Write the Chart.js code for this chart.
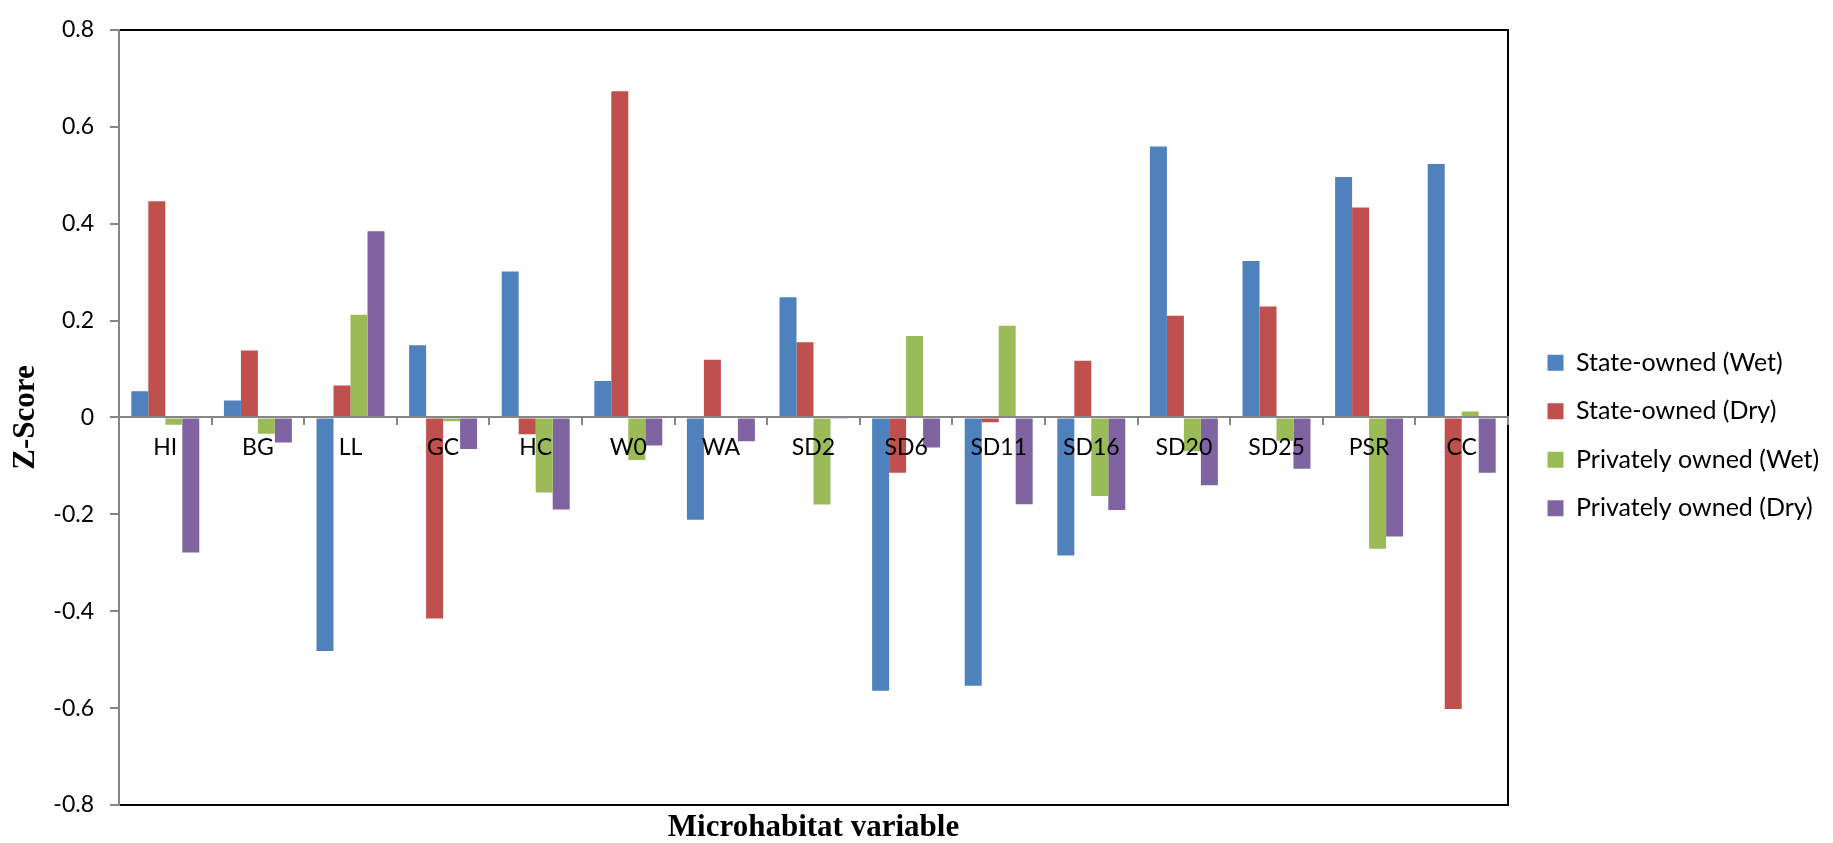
<!DOCTYPE html>
<html>
<head>
<meta charset="utf-8">
<script src="https://cdn.jsdelivr.net/npm/chart.js@4/dist/chart.umd.min.js"></script>
<style>
  body { margin: 0; background: #fff; }
  #wrap { width: 1833px; height: 843px; }
</style>
</head>
<body>
<div id="wrap"><canvas id="zChart"></canvas></div>
<script>
// values
const categories = ['HI', 'BG', 'LL', 'GC', 'HC', 'W0', 'WA', 'SD2', 'SD6', 'SD11', 'SD16', 'SD20', 'SD25', 'PSR', 'CC'];
const stateWet = [0.054, 0.035, -0.482, 0.149, 0.301, 0.075, -0.211, 0.248, -0.564, -0.554, -0.285, 0.559, 0.323, 0.496, 0.523];
const stateDry = [0.446, 0.138, 0.066, -0.415, -0.035, 0.673, 0.119, 0.155, -0.114, -0.010, 0.117, 0.210, 0.229, 0.433, -0.602];
const privWet = [-0.015, -0.034, 0.212, -0.008, -0.155, -0.088, 0, -0.180, 0.168, 0.189, -0.162, -0.070, -0.048, -0.271, 0.012];
const privDry = [-0.279, -0.052, 0.384, -0.065, -0.190, -0.058, -0.049, -0.003, -0.062, -0.179, -0.191, -0.140, -0.106, -0.246, -0.114];
const yTicks = [-0.8, 0.8, 0.2]; // min, max, step

const axisGray = '#868686';
const legendWidth = 309;

Chart.defaults.font.family = 'Lato';
Chart.defaults.color = '#000';

// keep the legend at a fixed width so the plot ends where the original does
const legendFit = {
    id: 'legendFit',
    afterInit(chart) {
        const lg = chart.legend;
        const fit = lg.fit;
        lg.fit = function () {
            fit.call(this);
            this.width = legendWidth;
        };
    }
};

const ctx = document.getElementById('zChart').getContext('2d');

new Chart(ctx, {
    type: 'bar',
    data: {
        labels: categories,
        datasets: [
            { label: 'State-owned (Wet)', data: stateWet, backgroundColor: '#4F81BD' },
            { label: 'State-owned (Dry)', data: stateDry, backgroundColor: '#C0504D' },
            { label: 'Privately owned (Wet)', data: privWet, backgroundColor: '#9BBB59' },
            { label: 'Privately owned (Dry)', data: privDry, backgroundColor: '#8064A2' }
        ].map(d => Object.assign(d, { xAxisID: 'x', yAxisID: 'y', borderWidth: 0, categoryPercentage: 0.734, barPercentage: 1 }))
    },
    options: {
        responsive: true,
        maintainAspectRatio: false,
        animation: false,
        layout: { padding: { top: 19, left: 0, right: 0, bottom: 0 } },
        plugins: {
            legend: {
                position: 'right',
                // empty title only nudges the centred block down a little
                title: { display: true, text: '', padding: 0, font: { size: 9, lineHeight: 1 } },
                labels: {
                    boxWidth: 16,
                    boxHeight: 16,
                    padding: 23.5,
                    color: '#000',
                    font: { family: 'Lato', size: 25 }
                }
            },
            tooltip: { enabled: false }
        },
        scales: {
            // category axis sits on the zero line, drawn over the bars like the original
            x: {
                type: 'category',
                position: { y: 0 },
                grid: { z: 1, drawOnChartArea: false, drawTicks: true, tickLength: 7, color: axisGray, lineWidth: 2, offset: true },
                border: { z: 1, color: axisGray, width: 2 },
                ticks: { z: 1, padding: 9, autoSkip: false, maxRotation: 0, color: '#000', font: { family: 'Lato', size: 23 } }
            },
            xBottom: {
                type: 'category',
                position: 'bottom',
                grid: { drawOnChartArea: false, drawTicks: false },
                border: { color: '#000', width: 2 },
                ticks: { display: false },
                title: {
                    display: true,
                    text: 'Microhabitat variable',
                    color: '#000',
                    padding: 0,
                    font: { family: 'Liberation Serif', size: 31, weight: 'bold', lineHeight: 1 }
                },
                afterFit: s => { s.height = 38; }
            },
            xTop: {
                type: 'category',
                position: 'top',
                grid: { drawOnChartArea: false, drawTicks: false },
                border: { color: '#000', width: 2 },
                ticks: { display: false },
                afterFit: s => { s.height = 0; }
            },
            y: {
                type: 'linear',
                position: 'left',
                min: yTicks[0],
                max: yTicks[1],
                grid: { drawOnChartArea: false, drawTicks: true, tickLength: 9, color: axisGray, lineWidth: 2 },
                border: { color: axisGray, width: 2 },
                ticks: {
                    stepSize: yTicks[2],
                    padding: 16,
                    color: '#000',
                    font: { family: 'Lato', size: 23 },
                    callback: v => (Math.abs(v) < 1e-9 ? '0' : v.toFixed(1))
                },
                title: {
                    display: true,
                    text: 'Z-Score',
                    color: '#000',
                    padding: { top: 10, bottom: 0 },
                    font: { family: 'Liberation Serif', size: 31, weight: 'bold', lineHeight: 1 }
                },
                afterFit: s => { s.width = 119; }
            },
            yRight: {
                type: 'linear',
                position: 'right',
                grid: { drawOnChartArea: false, drawTicks: false },
                border: { color: '#000', width: 2 },
                ticks: { display: false },
                afterFit: s => { s.width = 16; }
            }
        }
    },
    plugins: [legendFit]
});
</script>
</body>
</html>
